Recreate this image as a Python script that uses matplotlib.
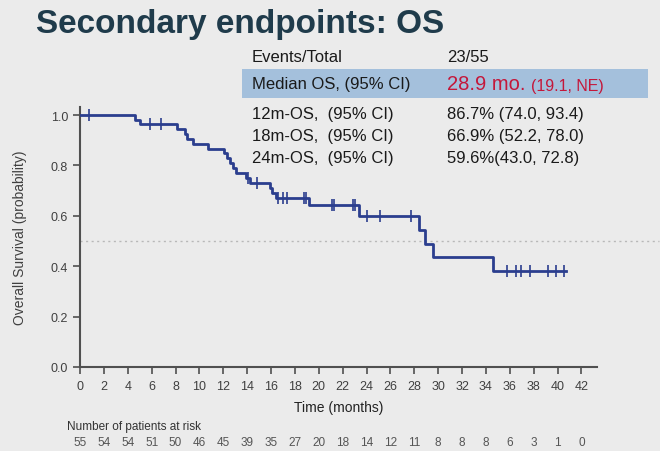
import matplotlib
matplotlib.use("Agg")
import matplotlib.pyplot as plt
import matplotlib.transforms as mtransforms
from matplotlib.patches import Rectangle
import numpy as np

plt.rcParams['font.family'] = ['Liberation Sans', 'DejaVu Sans']

# Kaplan-Meier steps
step_times = [0, 4.6, 5.0, 8.1, 8.8, 9.0, 9.5, 10.7, 12.1, 12.3, 12.6, 12.8, 13.1,
              13.9, 14.2, 15.9, 16.1, 16.4, 19.2, 23.4, 28.4, 28.9, 29.6, 34.6]
step_surv = [1.0, 0.981, 0.963, 0.944, 0.925, 0.906, 0.886, 0.867, 0.848, 0.829, 0.809,
             0.790, 0.771, 0.751, 0.732, 0.712, 0.691, 0.669, 0.645, 0.598, 0.544,
             0.489, 0.435, 0.381]
censor_times = [0.75, 5.9, 6.8, 14.1, 14.8, 16.6, 17.0, 17.3, 18.8, 18.95, 21.1, 21.25,
                22.9, 23.05, 24.0, 25.1, 27.7, 35.8, 36.5, 36.9, 37.7, 39.2, 39.9, 40.5]
end_time = 40.7

risk_times = list(range(0, 43, 2))
at_risk = [55, 54, 54, 51, 50, 46, 45, 39, 35, 27, 20, 18, 14, 12, 11, 8, 8, 8, 6, 3, 1, 0]

table_left = ["Events/Total", "Median OS, (95% CI)", "12m-OS,  (95% CI)",
              "18m-OS,  (95% CI)", "24m-OS,  (95% CI)"]
table_right = ["23/55", None, "86.7% (74.0, 93.4)", "66.9% (52.2, 78.0)", "59.6%(43.0, 72.8)"]
median_main = "28.9 mo."
median_ci = "(19.1, NE)"

W, H = 660, 452
bg = "#ebebeb"
navy = "#2b3e8e"
red = "#c4173a"
grey = "#505050"

fig = plt.figure(figsize=(W / 100, H / 100), dpi=100, facecolor=bg)

def fx(px):
    return px / W

def fy(py):
    return 1 - py / H

# title
fig.text(fx(36), fy(25), "Secondary endpoints: OS", fontsize=24, fontweight="bold",
         color="#1f3b4b", va="center", ha="left")

# summary table
fig.patches.append(Rectangle((fx(242), fy(99)), fx(648) - fx(242), fy(70) - fy(99),
                             transform=fig.transFigure, facecolor="#a4c0dc",
                             edgecolor="none", zorder=0))
row_y = [58, 85, 114, 137, 159]
for lab, val, yy in zip(table_left, table_right, row_y):
    fig.text(fx(252), fy(yy), lab, fontsize=12, color="#1a1a1a", va="center", ha="left")
    if val is not None:
        fig.text(fx(447), fy(yy), val, fontsize=12, color="#1a1a1a", va="center", ha="left")
fig.text(fx(447), fy(85), median_main, fontsize=14.5, color=red, va="center", ha="left")
fig.text(fx(531), fy(86), median_ci, fontsize=11.5, color=red, va="center", ha="left")

# axes
ax = fig.add_axes([fx(80), fy(368), fx(597) - fx(80), (368 - 108) / H])
ax.set_facecolor("none")
ax.set_xlim(0, 43.3)
ax.set_ylim(0, 1.032)

ax.step(step_times + [end_time], step_surv + [step_surv[-1]], where="post",
        color=navy, lw=2, zorder=3)
idx = np.searchsorted(step_times, censor_times, side="right") - 1
censor_surv = np.array(step_surv)[idx]
ax.plot(censor_times, censor_surv, ls="none", marker="|", ms=8, mew=1.2,
        color=navy, zorder=4)

ax.plot([0, 48.5], [0.5, 0.5], ls=(0, (1.5, 2.5)), color="#b8b8b8", lw=1,
        clip_on=False, zorder=1)

for s in ["top", "right"]:
    ax.spines[s].set_visible(False)
for s in ["left", "bottom"]:
    ax.spines[s].set_color(grey)
    ax.spines[s].set_linewidth(1.5)

ax.set_xticks(risk_times)
ax.set_yticks([0, 0.2, 0.4, 0.6, 0.8, 1.0])
ax.yaxis.set_major_formatter(matplotlib.ticker.FormatStrFormatter("%.1f"))
ax.tick_params(axis="both", colors=grey, labelcolor="#404040", length=5, width=1.2,
               labelsize=9, direction="out")
ax.tick_params(axis="x", pad=4)
ax.set_xlabel("Time (months)", fontsize=10, color="#222222", labelpad=6)
ax.set_ylabel("Overall Survival (probability)", fontsize=10, color="#404040", labelpad=17)

# number at risk
fig.text(fx(67), fy(427), "Number of patients at risk", fontsize=8.5, color="#333333",
         va="center", ha="left")
trans = mtransforms.blended_transform_factory(ax.transData, fig.transFigure)
for t, n in zip(risk_times, at_risk):
    ax.text(t, fy(443), str(n), transform=trans, fontsize=8.5, color="#555555",
            ha="center", va="center", clip_on=False)

fig.savefig("out.png", dpi=100, facecolor=bg)
